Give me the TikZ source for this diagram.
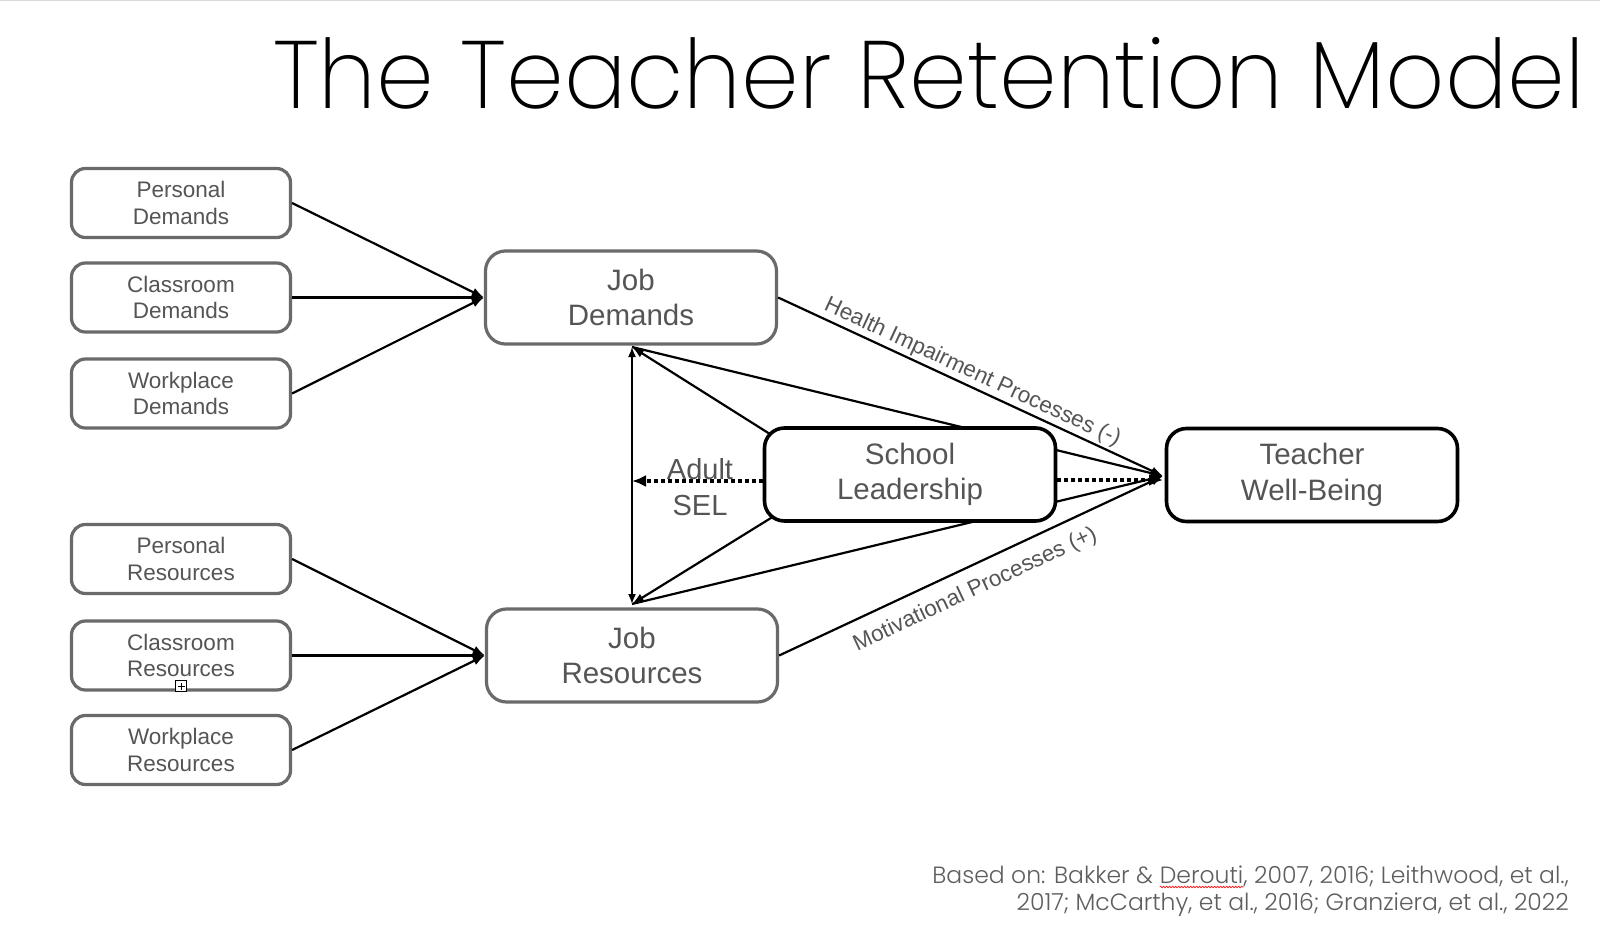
\documentclass[tikz,border=0pt]{standalone}
\usepackage{fontspec}
\setmainfont{Liberation Sans}
\newfontfamily\titlefont{Poppins ExtraLight}
\newfontfamily\footfontfam{Poppins Light}
\usetikzlibrary{arrows.meta,backgrounds,decorations.pathmorphing}
\definecolor{txtgray}{HTML}{555555}
\definecolor{boxgray}{HTML}{6A6A6A}
\definecolor{footgray}{HTML}{5E5E5E}
\definecolor{topline}{HTML}{D9D9D9}
\newcommand\myfootfont{\footfontfam\fontsize{23.5}{28}\selectfont}
\begin{document}
\begin{tikzpicture}[x=1pt,y=-1pt,
  smallbox/.style={draw=boxgray, line width=3.2pt, rounded corners=14pt, fill=white,
    minimum width=219pt, minimum height=69pt, text=txtgray, align=center,
    font=\fontsize{22.5}{26.5}\selectfont, inner sep=0pt},
  bigbox/.style={draw=boxgray, line width=3.2pt, rounded corners=20pt, fill=white,
    minimum width=291pt, minimum height=93pt, text=txtgray, align=center,
    font=\fontsize{29.5}{35.5}\selectfont, inner sep=0pt},
  keybox/.style={bigbox, draw=black, line width=3.6pt},
  conn/.style={line width=2.2pt, -{Latex[length=12pt,width=9pt]}},
  dotarrow/.style={line width=3.5pt, dash pattern=on 3.5pt off 3.5pt, -{Latex[length=14pt,width=12pt]}},
  twoway/.style={line width=1.6pt, {Latex[length=10pt,width=8pt]}-{Latex[length=10pt,width=8pt]}},
  proclabel/.style={sloped, text=txtgray, font=\fontsize{22.5}{26}\selectfont, inner sep=2pt},
  footnode/.style={anchor=base east, inner sep=0pt, font=\myfootfont, text=footgray}
]
\useasboundingbox (0,0) rectangle (1600,944);

% title
\node[anchor=base west, inner sep=0pt, text=black] (title) at (273,109)
  {\resizebox{1311pt}{71pt}{\titlefont The Teacher Retention Model}};

% boxes
\node[smallbox] (pd) at (181,203) {Personal\\Demands};
\node[smallbox] (cd) at (181,297.5) {Classroom\\Demands};
\node[smallbox] (wd) at (181,393.5) {Workplace\\Demands};
\node[smallbox] (pr) at (181,559) {Personal\\Resources};
\node[smallbox] (cr) at (181,655.5) {Classroom\\Resources};
\node[smallbox] (wr) at (181,750) {Workplace\\Resources};
\node[bigbox] (jd) at (631,297.5) {Job\\Demands};
\node[bigbox] (jr) at (632,655.5) {Job\\Resources};
\node[keybox] (sl) at (910,474.5) {School\\Leadership};
\node[keybox] (twb) at (1312,475) {Teacher\\Well-Being};

\coordinate (jdt) at (632,347);
\coordinate (jrt) at (632,604);
\coordinate (twbin) at (1163,476);
\coordinate (twbdot) at (1163,480);
\coordinate (sel) at (632,481);
\coordinate (slinA) at (800,453);
\coordinate (slinB) at (800,500);

\begin{pgfonlayer}{background}
  \fill[white] (0,0) rectangle (1600,944);
  \draw[topline, line width=1.5pt] (0,0.75) -- (1600,0.75);
  \draw[conn] (slinA) -- (jdt);
  \draw[conn] (slinB) -- (jrt);
  \draw[conn] (jdt) -- (twbin);
  \draw[conn] (jrt) -- (twbin);
\end{pgfonlayer}

% inputs
\draw[conn] (pd.east) -- (jd.west);
\draw[conn] (cd.east) -- (jd.west);
\draw[conn] (wd.east) -- (jd.west);
\draw[conn] (pr.east) -- (jr.west);
\draw[conn] (cr.east) -- (jr.west);
\draw[conn] (wr.east) -- (jr.west);

% processes
\draw[conn] (jd.east) -- node[proclabel, above, pos=0.49] {Health Impairment Processes (-)} (twbin);
\draw[conn] (jr.east) -- node[proclabel, below, pos=0.485, inner sep=12pt] {Motivational Processes (+)} (twbin);

% two-way
\draw[twoway] (jdt) -- (jrt);

% dotted
\draw[dotarrow] (sl.west |- sel) -- (sel);
\draw[dotarrow] (sl.east |- twbdot) -- (twbdot);
\node[text=txtgray, align=center, font=\fontsize{29}{36}\selectfont, inner sep=0pt] (adult) at (700,487) {Adult\\SEL};

% small icon
\node[draw=black, line width=0.8pt, fill=white, minimum size=11pt, inner sep=0pt] (plusbox) at (181,686) {};
\draw[line width=0.8pt] ([xshift=-3.5pt]plusbox.center) -- ([xshift=3.5pt]plusbox.center);
\draw[line width=0.8pt] ([yshift=-3.5pt]plusbox.center) -- ([yshift=3.5pt]plusbox.center);

% footer
\node[footnode] (f1c) at (1569,883) {, 2007, 2016; Leithwood, et al.,};
\node[footnode] (f1b) at (f1c.base west) {Derouti};
\node[footnode] (f1a) at (f1b.base west) {Based on: Bakker \&\ \hbox{}};
\node[footnode] (f2) at (1569,910) {2017; McCarthy, et al., 2016; Granziera, et al., 2022};
\draw[red, line width=0.6pt, decorate, decoration={snake, amplitude=0.9pt, segment length=3pt}]
  ([yshift=-4pt]f1b.base west) -- ([yshift=-4pt]f1b.base east);
\end{tikzpicture}
\end{document}
